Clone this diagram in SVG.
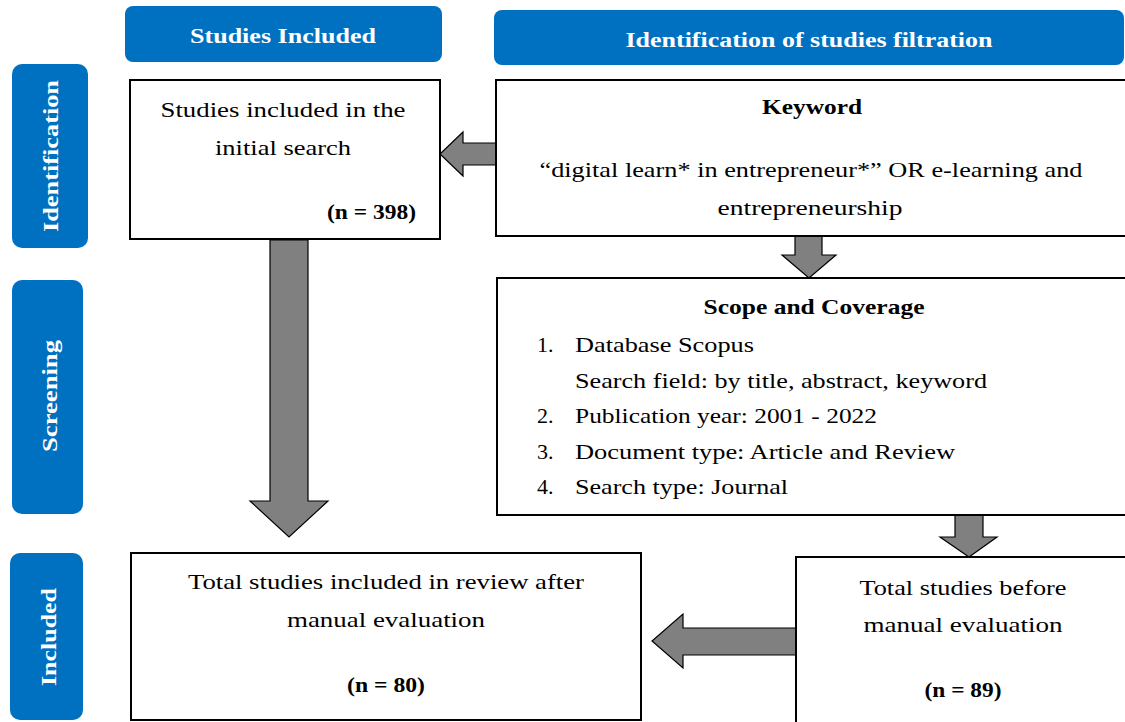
<svg xmlns="http://www.w3.org/2000/svg" width="1125" height="722" viewBox="0 0 1125 722">
<style>
.tab{fill:#0070C0}
.box{fill:#fff;stroke:#000;stroke-width:2}
.arr{fill:#808080;stroke:#000;stroke-width:1.2;stroke-linejoin:miter}
.t{font-family:"Liberation Serif","DejaVu Serif",serif;font-size:22px;fill:#000}
.b{font-weight:bold}
.w{fill:#fff;font-weight:bold}
.c{text-anchor:middle}
</style>
<rect width="1125" height="722" fill="#fff"/>
<g id="header-studies-included">
<rect class="tab" x="125" y="6" width="317" height="56" rx="8"/>
<text class="t w c" x="283" y="43" textLength="186" lengthAdjust="spacingAndGlyphs">Studies Included</text>
</g>
<g id="header-identification-filtration">
<rect class="tab" x="494" y="10" width="630" height="55" rx="8"/>
<text class="t w c" x="809" y="47" textLength="367" lengthAdjust="spacingAndGlyphs">Identification of studies filtration</text>
</g>
<g id="tab-identification">
<rect class="tab" x="12" y="64" width="76" height="184" rx="10"/>
<text class="t w c" transform="translate(58,156) rotate(-90)" textLength="152" lengthAdjust="spacingAndGlyphs">Identification</text>
</g>
<g id="tab-screening">
<rect class="tab" x="12" y="280" width="71" height="234" rx="10"/>
<text class="t w c" transform="translate(57,396) rotate(-90)" textLength="112" lengthAdjust="spacingAndGlyphs">Screening</text>
</g>
<g id="tab-included">
<rect class="tab" x="10" y="553" width="73" height="167" rx="10"/>
<text class="t w c" transform="translate(56,637) rotate(-90)" textLength="98" lengthAdjust="spacingAndGlyphs">Included</text>
</g>
<g id="connectors">
<polygon class="arr" points="496,143 463,143 463,132 440,154 463,176 463,165 496,165"/>
<polygon class="arr" points="270,240 308,240 308,501 328,501 289,537 250,501 270,501"/>
<polygon class="arr" points="795,236 822,236 822,255 836,255 809,278 782,255 795,255"/>
<polygon class="arr" points="955,515 983,515 983,537 997,537 969,557 940,537 955,537"/>
<polygon class="arr" points="797,628 683,628 683,614 652,641 683,668 683,655 797,655"/>
</g>
<g id="node-initial-search">
<rect class="box" x="130" y="80" width="310" height="159"/>
<text class="t c" x="283" y="117" textLength="245" lengthAdjust="spacingAndGlyphs">Studies included in the</text>
<text class="t c" x="283" y="155" textLength="136" lengthAdjust="spacingAndGlyphs">initial search</text>
<text class="t b" x="416" y="219" text-anchor="end" textLength="89" lengthAdjust="spacingAndGlyphs">(n = 398)</text>
</g>
<g id="node-keyword">
<rect class="box" x="496" y="80" width="640" height="156"/>
<text class="t b c" x="812" y="114" textLength="100" lengthAdjust="spacingAndGlyphs">Keyword</text>
<text class="t c" x="811" y="177" textLength="543" lengthAdjust="spacingAndGlyphs">“digital learn* in entrepreneur*” OR e-learning and</text>
<text class="t c" x="810" y="215" textLength="185" lengthAdjust="spacingAndGlyphs">entrepreneurship</text>
</g>
<g id="node-scope">
<rect class="box" x="497" y="278" width="640" height="237"/>
<text class="t b c" x="814" y="314" textLength="221" lengthAdjust="spacingAndGlyphs">Scope and Coverage</text>
<text class="t" x="537" y="352">1.</text>
<text class="t" x="575" y="352" textLength="179" lengthAdjust="spacingAndGlyphs">Database Scopus</text>
<text class="t" x="575" y="388" textLength="412" lengthAdjust="spacingAndGlyphs">Search field: by title, abstract, keyword</text>
<text class="t" x="537" y="423">2.</text>
<text class="t" x="575" y="423" textLength="302" lengthAdjust="spacingAndGlyphs">Publication year: 2001 - 2022</text>
<text class="t" x="537" y="459">3.</text>
<text class="t" x="575" y="459" textLength="380" lengthAdjust="spacingAndGlyphs">Document type: Article and Review</text>
<text class="t" x="537" y="494">4.</text>
<text class="t" x="575" y="494" textLength="213" lengthAdjust="spacingAndGlyphs">Search type: Journal</text>
</g>
<g id="node-before-manual">
<rect class="box" x="796" y="557" width="340" height="175"/>
<text class="t c" x="963" y="595" textLength="207" lengthAdjust="spacingAndGlyphs">Total studies before</text>
<text class="t c" x="963" y="632" textLength="199" lengthAdjust="spacingAndGlyphs">manual evaluation</text>
<text class="t b c" x="963" y="697" textLength="77" lengthAdjust="spacingAndGlyphs">(n = 89)</text>
</g>
<g id="node-included-review">
<rect class="box" x="131" y="553" width="510" height="167"/>
<text class="t c" x="386" y="589" textLength="396" lengthAdjust="spacingAndGlyphs">Total studies included in review after</text>
<text class="t c" x="386" y="627" textLength="198" lengthAdjust="spacingAndGlyphs">manual evaluation</text>
<text class="t b c" x="386" y="692" textLength="78" lengthAdjust="spacingAndGlyphs">(n = 80)</text>
</g>
</svg>
